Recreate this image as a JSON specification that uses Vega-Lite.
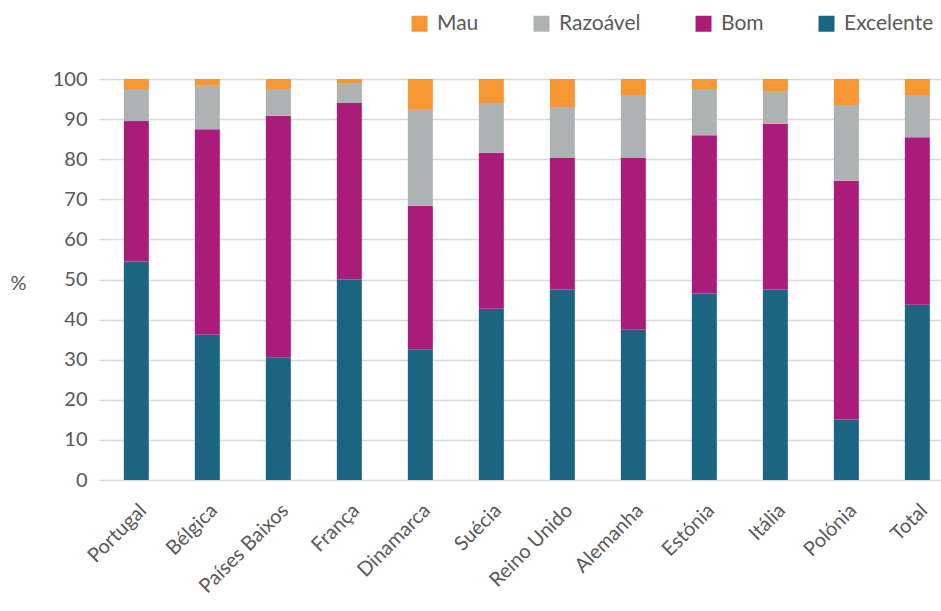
{
  "$schema": "https://vega.github.io/schema/vega-lite/v6.json",
  "autosize": "none",
  "width": 842,
  "height": 401,
  "padding": {"left": 99, "top": 79, "right": 0, "bottom": 131},
  "background": "white",
  "config": {
    "view": {"stroke": null},
    "font": "Lato",
    "axis": {"labelFont": "Lato", "titleFont": "Lato", "labelColor": "#595959", "titleColor": "#595959"},
    "legend": {"labelFont": "Lato"}
  },
  "data": {
    "values": [
      {"pais": "Portugal", "Excelente": 54.5, "Bom": 35.0, "Razoável": 8.0, "Mau": 2.5},
      {"pais": "Bélgica", "Excelente": 36.2, "Bom": 51.3, "Razoável": 10.8, "Mau": 1.7},
      {"pais": "Países Baixos", "Excelente": 30.6, "Bom": 60.2, "Razoável": 6.7, "Mau": 2.5},
      {"pais": "França", "Excelente": 50.0, "Bom": 44.0, "Razoável": 5.0, "Mau": 1.0},
      {"pais": "Dinamarca", "Excelente": 32.6, "Bom": 35.8, "Razoável": 23.9, "Mau": 7.7},
      {"pais": "Suécia", "Excelente": 42.7, "Bom": 38.9, "Razoável": 12.4, "Mau": 6.0},
      {"pais": "Reino Unido", "Excelente": 47.5, "Bom": 32.8, "Razoável": 12.7, "Mau": 7.0},
      {"pais": "Alemanha", "Excelente": 37.5, "Bom": 42.8, "Razoável": 15.7, "Mau": 4.0},
      {"pais": "Estónia", "Excelente": 46.5, "Bom": 39.5, "Razoável": 11.5, "Mau": 2.5},
      {"pais": "Itália", "Excelente": 47.5, "Bom": 41.3, "Razoável": 8.2, "Mau": 3.0},
      {"pais": "Polónia", "Excelente": 15.1, "Bom": 59.5, "Razoável": 18.9, "Mau": 6.5},
      {"pais": "Total", "Excelente": 43.7, "Bom": 41.8, "Razoável": 10.5, "Mau": 4.0}
    ]
  },
  "transform": [
    {"fold": ["Excelente", "Bom", "Razoável", "Mau"], "as": ["categoria", "valor"]},
    {"calculate": "indexof(['Excelente','Bom','Razoável','Mau'], datum.categoria)", "as": "ordem"}
  ],
  "mark": {"type": "bar"},
  "encoding": {
    "x": {
      "field": "pais",
      "type": "nominal",
      "sort": null,
      "scale": {"paddingInner": 0.648, "paddingOuter": 0.2535, "align": 0.69},
      "axis": {
        "title": null,
        "labelAngle": -45,
        "labelAlign": "right",
        "labelBaseline": "top",
        "labelFontSize": 20,
        "labelPadding": 20,
        "ticks": false,
        "domain": false,
        "grid": false
      }
    },
    "y": {
      "field": "valor",
      "type": "quantitative",
      "stack": "zero",
      "scale": {"domain": [0, 100], "nice": false},
      "axis": {
        "title": "%",
        "titleAngle": 0,
        "titleFontSize": 20,
        "titleFontWeight": "normal",
        "titleX": -81,
        "titleY": 204,
        "titleAlign": "center",
        "titleBaseline": "middle",
        "values": [0, 10, 20, 30, 40, 50, 60, 70, 80, 90, 100],
        "labelFontSize": 20,
        "labelPadding": 12,
        "ticks": false,
        "domain": false,
        "grid": true,
        "gridColor": "#d9d9d9",
        "gridWidth": 1.5
      }
    },
    "color": {
      "field": "categoria",
      "type": "nominal",
      "scale": {
        "domain": ["Mau", "Razoável", "Bom", "Excelente"],
        "range": ["#F79733", "#AFB2B3", "#AA1C7A", "#1B6583"]
      },
      "legend": {
        "title": null,
        "orient": "none",
        "direction": "horizontal",
        "legendX": 310,
        "legendY": -66,
        "symbolType": "square",
        "symbolSize": 256,
        "symbolStrokeWidth": 0,
        "symbolOpacity": 1,
        "labelFontSize": 21,
        "labelColor": "#595959",
        "labelOffset": 7,
        "columnPadding": 52
      }
    },
    "order": {"field": "ordem", "type": "quantitative"}
  }
}
